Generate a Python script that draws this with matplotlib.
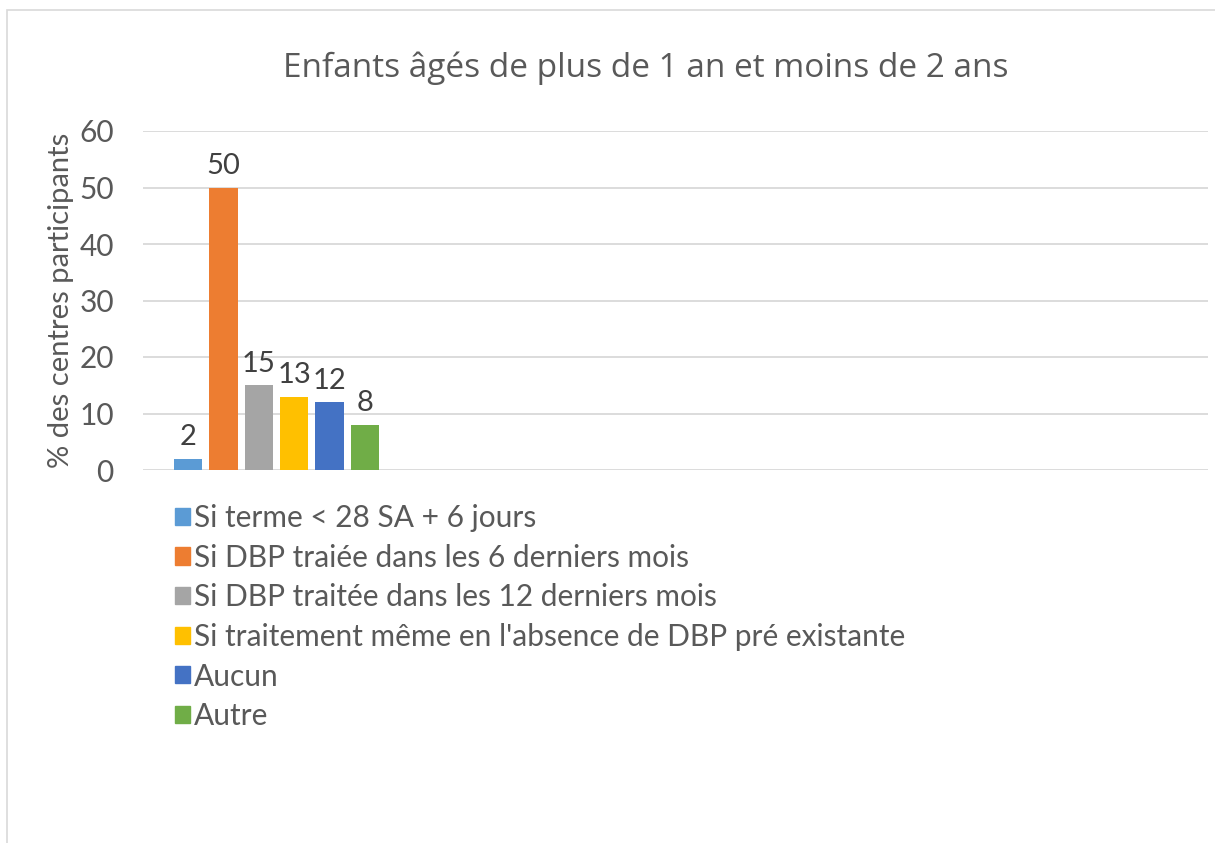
"""Bar chart: centres participants, enfants 1-2 ans."""

import matplotlib
matplotlib.use("Agg")
import matplotlib.pyplot as plt  # noqa: E402
from matplotlib.patches import Rectangle  # noqa: E402
import numpy as np  # noqa: E402

SERIES = [
    "Si terme < 28 SA + 6 jours",
    "Si DBP traiée dans les 6 derniers mois",
    "Si DBP traitée dans les 12 derniers mois",
    "Si traitement même en l'absence de DBP pré existante",
    "Aucun",
    "Autre",
]
VALUES = [2, 50, 15, 13, 12, 8]
COLORS = ["#5B9BD5", "#ED7D31", "#A5A5A5", "#FFC000", "#4472C4", "#70AD47"]
YTICKS = [0, 10, 20, 30, 40, 50, 60]
TITLE = "Enfants âgés de plus de 1 an et moins de 2 ans"
YLABEL = "% des centres participants"

TXT = "#595959"
GRID = "#D9D9D9"
FONT = ["Lato", "DejaVu Sans"]

plt.rcParams["font.family"] = FONT

W, H = 1215, 843
fig = plt.figure(figsize=(W / 100, H / 100), dpi=100)

# chart-area border
fig.add_artist(Rectangle((7 / W, -0.05), 1.1, 0.05 + 1 - 10 / H,
                         transform=fig.transFigure, fill=False,
                         edgecolor=GRID, linewidth=1.2))

ax = fig.add_axes([143 / W, 1 - 470 / H, (1208 - 143) / W, (470 - 131) / H])

x = np.arange(len(VALUES))
ax.bar(x, VALUES, width=0.8, color=COLORS, zorder=3)
for xi, v in zip(x, VALUES):
    ax.text(xi, v + 1.5, f"{v}", ha="center", va="bottom",
            fontsize=21, color="#404040")

ax.set_xlim(-1.27, 28.8)
ax.set_ylim(0, 60)
ax.set_yticks(YTICKS)
ax.set_yticklabels([str(t) for t in YTICKS], fontsize=21.5, color=TXT)
ax.tick_params(axis="y", length=0, pad=21)
ax.set_xticks([])
ax.grid(axis="y", color=GRID, linewidth=1.3, zorder=0)
for s in ax.spines.values():
    s.set_visible(False)
ax.set_ylabel(YLABEL, fontsize=21, color=TXT, labelpad=4)

fig.text(646 / W, 1 - 68 / H, TITLE, ha="center", va="center",
         fontsize=24, color=TXT, family=["Open Sans", "DejaVu Sans"])

handles = [Rectangle((0, 0), 1, 1, color=c) for c in COLORS]
fig.legend(handles, SERIES, loc="upper left",
           bbox_to_anchor=(163 / W, 1 - 492 / H), frameon=False,
           fontsize=21.5, labelcolor=TXT, handlelength=0.5, handleheight=0.5,
           handletextpad=0.15, labelspacing=0.39, borderaxespad=0)

fig.savefig("out.png", dpi=100, facecolor="white")
